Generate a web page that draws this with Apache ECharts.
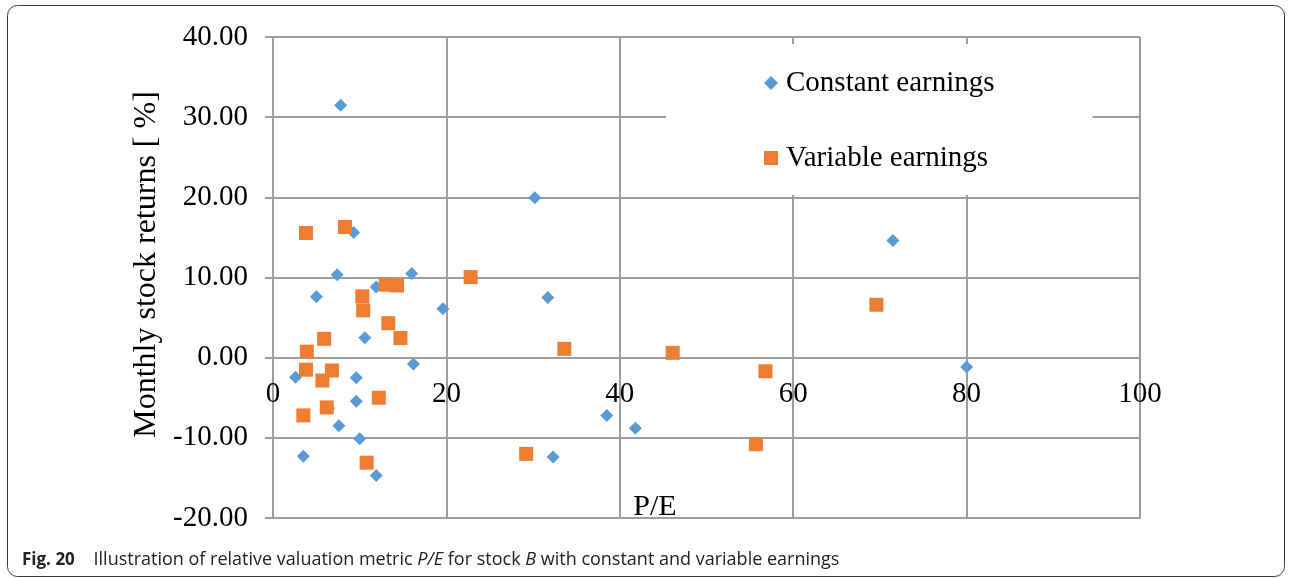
<!DOCTYPE html>
<html>
<head>
<meta charset="utf-8">
<script src="https://cdn.jsdelivr.net/npm/echarts@6/dist/echarts.min.js"></script>
<style>
    html, body { margin: 0; padding: 0; background: #fff; }
    #chart { width: 1290px; height: 578px; }
</style>
</head>
<body>
<div id="chart"></div>
<script>
    // values (P/E on x, monthly return % on y)
    var constantPE = [7.8, 30.2, 9.3, 71.5, 7.4, 16.0, 11.9, 5.0, 31.7, 19.6, 10.6, 16.2,
        2.6, 9.6, 9.6, 7.6, 10.0, 3.5, 11.9, 80.0, 38.5, 41.8, 32.3, 6.4];
    var constantRet = [31.5, 19.95, 15.6, 14.6, 10.35, 10.5, 8.8, 7.6, 7.5, 6.1, 2.5, -0.8,
        -2.45, -2.5, -5.45, -8.5, -10.1, -12.3, -14.7, -1.15, -7.2, -8.8, -12.4, -6.3];

    var variablePE = [3.8, 8.3, 13.0, 14.3, 10.3, 10.4, 13.3, 14.7, 5.9, 3.9, 3.8, 6.8,
        5.7, 12.2, 6.2, 3.5, 10.8, 22.8, 33.6, 29.2, 46.1, 56.8, 55.7, 69.6];
    var variableRet = [15.55, 16.3, 9.1, 9.0, 7.65, 5.9, 4.3, 2.45, 2.35, 0.75, -1.5, -1.6,
        -2.85, -5.0, -6.2, -7.2, -13.1, 10.05, 1.1, -12.0, 0.6, -1.7, -10.8, 6.6];

    var seriesNames = ['Constant earnings', 'Variable earnings'];

    function pairs(xs, ys) {
        var out = [];
        for (var i = 0; i < xs.length; i++) {
            out.push([xs[i], ys[i]]);
        }
        return out;
    }

    var serif = '"Liberation Serif", "Times New Roman", serif';
    var sans = '"Open Sans", "Noto Sans", sans-serif';
    var gridColor = '#9d9d9d';

    var chart = echarts.init(document.getElementById('chart'), null, {renderer: 'canvas'});
    var option = {
        backgroundColor: '#fff',
        animation: false,
        grid: {
            left: 273,
            right: 150,
            top: 37,
            bottom: 60,
            containLabel: false,
            outerBoundsMode: 'none'
        },
        legend: {
            orient: 'vertical',
            left: 666,
            top: 44,
            padding: [24, 98, 22, 98],
            backgroundColor: '#fff',
            itemGap: 45,
            itemWidth: 14,
            itemHeight: 14,
            textStyle: {
                fontFamily: serif,
                fontSize: 29,
                color: '#000',
                lineHeight: 30,
                padding: [0, 0, 0, 3]
            },
            data: [
                {name: seriesNames[0], icon: 'diamond', itemStyle: {color: '#5b9bd5'}},
                {name: seriesNames[1], icon: 'rect', itemStyle: {color: '#ed7d31'}}
            ]
        },
        // x labels sit just under the zero line, so pull them up from the bottom edge
        xAxis: {
            type: 'value',
            min: 0,
            max: 100,
            interval: 20,
            axisLine: {onZero: false, lineStyle: {color: gridColor, width: 2}},
            axisTick: {show: false},
            axisLabel: {
                margin: -138,
                fontFamily: serif,
                fontSize: 29,
                color: '#000'
            },
            splitLine: {show: true, lineStyle: {color: gridColor, width: 2}}
        },
        yAxis: {
            type: 'value',
            min: -20,
            max: 40,
            interval: 10,
            name: 'Monthly stock returns [ %]',
            nameLocation: 'middle',
            nameGap: 108,
            nameRotate: 90,
            nameTextStyle: {
                fontFamily: serif,
                fontSize: 32,
                color: '#000',
                padding: [0, 0, 0, 26]
            },
            axisLine: {show: true, onZero: false, lineStyle: {color: gridColor, width: 2}},
            axisTick: {show: true, length: 8, lineStyle: {color: gridColor, width: 2}},
            axisLabel: {
                margin: 25,
                fontFamily: serif,
                fontSize: 29,
                color: '#000',
                formatter: function (v) { return v.toFixed(2); }
            },
            splitLine: {show: true, lineStyle: {color: gridColor, width: 2}}
        },
        series: [
            {
                name: seriesNames[0],
                type: 'scatter',
                symbol: 'diamond',
                symbolSize: 13,
                itemStyle: {color: '#5b9bd5', opacity: 1},
                z: 2,
                data: pairs(constantPE, constantRet)
            },
            {
                name: seriesNames[1],
                type: 'scatter',
                symbol: 'rect',
                symbolSize: 14,
                itemStyle: {color: '#ed7d31', opacity: 1},
                z: 3,
                data: pairs(variablePE, variableRet)
            }
        ],
        graphic: [
            {
                type: 'rect',
                z: -10,
                shape: {x: 7.5, y: 5.5, width: 1277, height: 571, r: 10},
                style: {fill: null, stroke: '#3a3a3a', lineWidth: 1}
            },
            {
                // x axis title, placed under the plot like the source figure
                type: 'text',
                x: 655,
                y: 507,
                style: {
                    text: 'P/E',
                    fontFamily: serif,
                    fontSize: 30,
                    fill: '#000',
                    align: 'center',
                    verticalAlign: 'middle'
                }
            },
            {
                type: 'text',
                left: 22,
                top: 551,
                style: {
                    text: '{b|Fig. 20}{n|    Illustration of relative valuation metric }{i|P/E}{n| for stock }{i|B}{n| with constant and variable earnings}',
                    rich: {
                        b: {fontFamily: sans, fontWeight: 'bold', fontSize: 17, fill: '#222'},
                        n: {fontFamily: sans, fontSize: 18, fill: '#222'},
                        i: {fontFamily: sans, fontStyle: 'italic', fontSize: 18, fill: '#222'}
                    }
                }
            }
        ]
    };
    chart.setOption(option);
</script>
</body>
</html>
